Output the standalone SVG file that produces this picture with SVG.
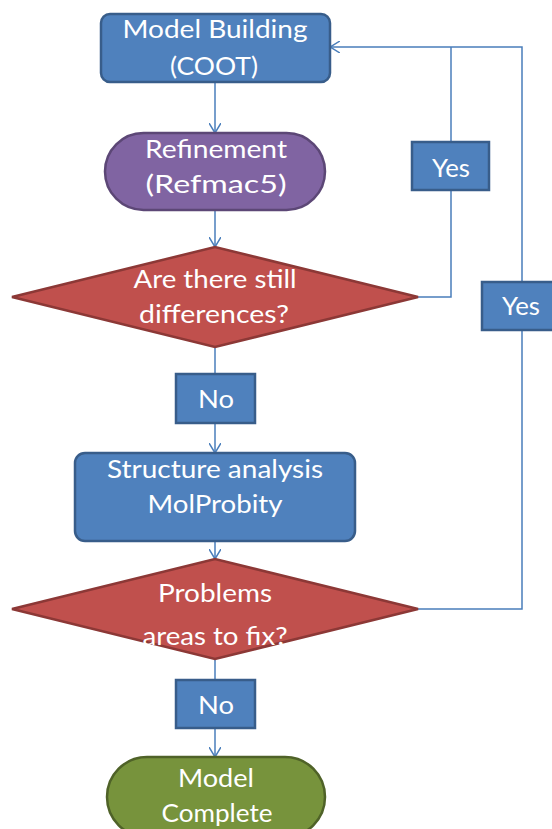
<svg xmlns="http://www.w3.org/2000/svg" width="552" height="829" viewBox="0 0 552 829">
  <defs>
    <marker id="arr" viewBox="0 0 10 12" refX="10" refY="6" markerWidth="10" markerHeight="12" markerUnits="userSpaceOnUse" orient="auto">
      <path d="M0,0 L10,6 L0,12" fill="none" stroke="#4A7EBB" stroke-width="1.5"/>
    </marker>
  </defs>
  <style>
    .blue { fill: #4F81BD; stroke: #385D8A; stroke-width: 2.5; }
    .purple { fill: #8064A2; stroke: #5C4776; stroke-width: 2.5; }
    .red { fill: #C0504D; stroke: #8C3836; stroke-width: 2.5; }
    .green { fill: #77933C; stroke: #4F6228; stroke-width: 2.5; }
    .t { font-family: Lato, "Open Sans", "Liberation Sans", sans-serif; font-size: 25px; fill: #FFFFFF; text-anchor: middle; }
    .c { fill: none; stroke: #4A7EBB; stroke-width: 1.5; }
  </style>
  <rect width="552" height="829" fill="#FFFFFF"/>

  <g id="connectors">
    <path class="c" d="M215,82 V133" marker-end="url(#arr)"/>
    <path class="c" d="M215,210 V247" marker-end="url(#arr)"/>
    <path class="c" d="M215,347 V374"/>
    <path class="c" d="M215,423 V453" marker-end="url(#arr)"/>
    <path class="c" d="M215,541 V559" marker-end="url(#arr)"/>
    <path class="c" d="M215,659 V680"/>
    <path class="c" d="M215,728 V757" marker-end="url(#arr)"/>
    <path class="c" d="M418,297 H451 V190"/>
    <path class="c" d="M451,142 V47"/>
    <path class="c" d="M418,609 H522 V330"/>
    <path class="c" d="M522,282 V47 H330" marker-end="url(#arr)"/>
  </g>

  <g id="model-building">
    <rect class="blue" x="101" y="14" width="229" height="68" rx="9"/>
    <text class="t" x="215" y="38" textLength="185" lengthAdjust="spacingAndGlyphs">Model Building</text>
    <text class="t" x="214" y="75" textLength="88" lengthAdjust="spacingAndGlyphs">(COOT)</text>
  </g>

  <g id="refinement">
    <rect class="purple" x="105" y="133" width="220" height="77" rx="38.5"/>
    <text class="t" x="216" y="158" textLength="142" lengthAdjust="spacingAndGlyphs">Refinement</text>
    <text class="t" x="216" y="193" textLength="141" lengthAdjust="spacingAndGlyphs">(Refmac5)</text>
  </g>

  <g id="differences">
    <polygon class="red" points="12,297 215,247 418,297 215,347"/>
    <text class="t" x="215" y="288" textLength="163" lengthAdjust="spacingAndGlyphs">Are there still</text>
    <text class="t" x="214" y="323" textLength="150" lengthAdjust="spacingAndGlyphs">differences?</text>
  </g>

  <g id="no1">
    <rect class="blue" x="176" y="374" width="79" height="49"/>
    <text class="t" x="216" y="408" textLength="36" lengthAdjust="spacingAndGlyphs">No</text>
  </g>

  <g id="structure">
    <rect class="blue" x="75" y="453" width="280" height="88" rx="10"/>
    <text class="t" x="215" y="478" textLength="216" lengthAdjust="spacingAndGlyphs">Structure analysis</text>
    <text class="t" x="215" y="513" textLength="135" lengthAdjust="spacingAndGlyphs">MolProbity</text>
  </g>

  <g id="problems">
    <polygon class="red" points="12,609 215,559 418,609 215,659"/>
    <text class="t" x="215" y="602" textLength="114" lengthAdjust="spacingAndGlyphs">Problems</text>
    <text class="t" x="215" y="645" textLength="145" lengthAdjust="spacingAndGlyphs">areas to fix?</text>
  </g>

  <g id="no2">
    <rect class="blue" x="176" y="680" width="79" height="48"/>
    <text class="t" x="216" y="714" textLength="36" lengthAdjust="spacingAndGlyphs">No</text>
  </g>

  <g id="complete">
    <rect class="green" x="107" y="757" width="218" height="80" rx="40"/>
    <text class="t" x="216" y="787" textLength="76" lengthAdjust="spacingAndGlyphs">Model</text>
    <text class="t" x="217" y="822" textLength="111" lengthAdjust="spacingAndGlyphs">Complete</text>
  </g>

  <g id="yes1">
    <rect class="blue" x="412" y="142" width="77" height="48"/>
    <text class="t" x="451" y="177" textLength="38" lengthAdjust="spacingAndGlyphs">Yes</text>
  </g>

  <g id="yes2">
    <rect class="blue" x="482" y="282" width="79" height="48"/>
    <text class="t" x="521" y="315" textLength="38" lengthAdjust="spacingAndGlyphs">Yes</text>
  </g>
</svg>
